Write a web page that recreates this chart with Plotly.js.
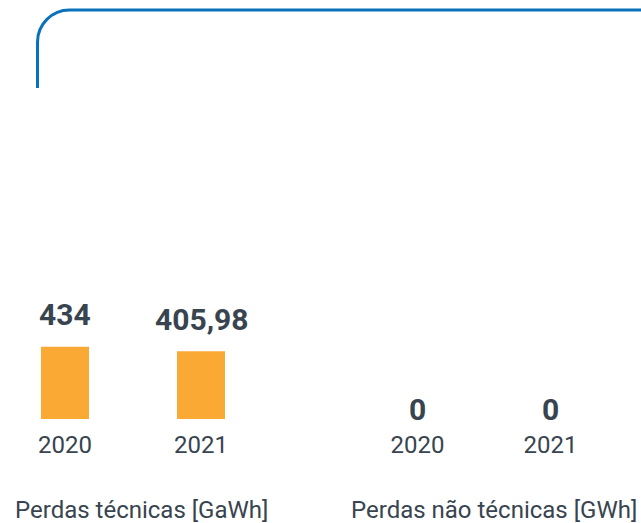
<!DOCTYPE html>
<html>
<head>
<meta charset="utf-8">
<script src="https://cdn.plot.ly/plotly-3.0.1.min.js"></script>
<style>html,body{margin:0;padding:0;background:#fff;}#chart{width:641px;height:523px;}</style>
</head>
<body>
<div id="chart"></div>
<script>
// ---- data ----
var groupTitles = ["Perdas técnicas [GaWh]", "Perdas não técnicas [GWh]"];
var years = ["2020", "2021"];
var tecnicas = [434, 405.98];
var naoTecnicas = [0, 0];
var valueLabels1 = ["434", "405,98"];
var valueLabels2 = ["0", "0"];

// ---- style ----
var W = 641, H = 523;
var M = {l: 0, r: 0, t: 100, b: 104};
var plotH = H - M.t - M.b;
var textColor = "#38444f";
var barColor = "#f9a934";
var blue = "#0a72ba";
var font = "Roboto, 'Open Sans', sans-serif";

function px2paperX(px) { return (px - M.l) / (W - M.l - M.r); }
function px2paperY(py) { return (H - M.b - py) / plotH; }

var traces = [
  {type: "bar", x: years, y: tecnicas, xaxis: "x", yaxis: "y",
   marker: {color: barColor}, hoverinfo: "skip", showlegend: false},
  {type: "bar", x: years, y: naoTecnicas, xaxis: "x2", yaxis: "y",
   marker: {color: barColor}, hoverinfo: "skip", showlegend: false}
];

var annotations = [];
function addLabels(vals, labels, xref) {
  vals.forEach(function (v, i) {
    annotations.push({
      x: i, y: v, xref: xref, yref: "y",   // i = category index of years[i]
      text: "<b>" + labels[i] + "</b>", showarrow: false,
      yanchor: "middle", yshift: v > 0 ? 32 : 10,
      font: {family: font, size: 30, color: textColor}
    });
  });
}
addLabels(tecnicas, valueLabels1, "x");
addLabels(naoTecnicas, valueLabels2, "x2");

[["x domain", 8], ["x2 domain", 10]].forEach(function (a, i) {
  annotations.push({
    x: 0.5, xref: a[0], xshift: a[1], y: px2paperY(510), yref: "paper",
    text: groupTitles[i], showarrow: false, yanchor: "middle",
    font: {family: font, size: 24, color: textColor}
  });
});

// border path (top + left edges with rounded corner)
var r = 32, k = 0.552;
var xl = 37.5, yt = 10, yb = 88;
var pts = "M " + px2paperX(xl) + "," + px2paperY(yb) +
  " L " + px2paperX(xl) + "," + px2paperY(yt + r) +
  " C " + px2paperX(xl) + "," + px2paperY(yt + r - r * k) + " " +
  px2paperX(xl + r - r * k) + "," + px2paperY(yt) + " " +
  px2paperX(xl + r) + "," + px2paperY(yt) +
  " L " + px2paperX(W + 10) + "," + px2paperY(yt);

var axisCommon = {
  type: "category", showgrid: false, zeroline: false, showline: false,
  ticks: "outside", ticklen: 4, tickcolor: "rgba(0,0,0,0)",
  tickfont: {family: font, size: 24, color: textColor}, fixedrange: true
};

var layout = {
  width: W, height: H, margin: M,
  paper_bgcolor: "#ffffff", plot_bgcolor: "#ffffff",
  bargap: 0.647,
  showlegend: false,
  xaxis: Object.assign({}, axisCommon, {domain: [px2paperX(0), px2paperX(266)], range: [-0.478, 1.478], anchor: "y"}),
  xaxis2: Object.assign({}, axisCommon, {domain: [px2paperX(351), px2paperX(617)], range: [-0.5, 1.5], anchor: "y"}),
  yaxis: {range: [0, plotH / 0.1666], visible: false, fixedrange: true, showgrid: false, zeroline: false},
  annotations: annotations,
  shapes: [{type: "path", xref: "paper", yref: "paper", path: pts,
            line: {color: blue, width: 3}, fillcolor: "rgba(0,0,0,0)", layer: "above"}]
};

Plotly.newPlot("chart", traces, layout, {displayModeBar: false, staticPlot: true});
</script>
</body>
</html>
